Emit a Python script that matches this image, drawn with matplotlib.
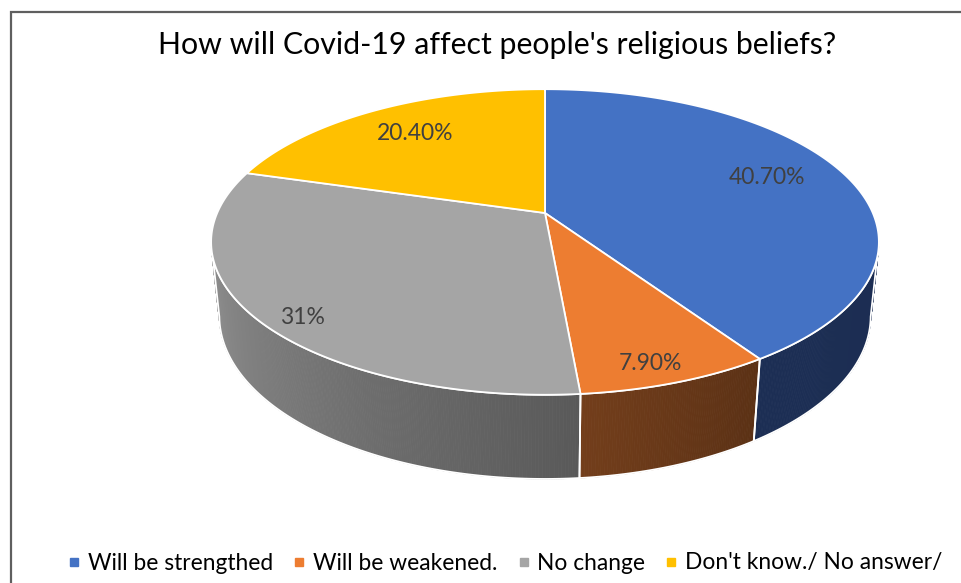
import numpy as np
import matplotlib
matplotlib.use("Agg")
import matplotlib.pyplot as plt
from matplotlib.patches import Polygon
from matplotlib.lines import Line2D
from matplotlib.colors import to_rgb

# ---- data ----
title = "How will Covid-19 affect people's religious beliefs?"
categories = ["Will be strengthed", "Will be weakened.", "No change", "Don't know./ No answer/"]
shares = [40.7, 7.9, 31.0, 20.4]
value_labels = ["40.70%", "7.90%", "31%", "20.40%"]

# ---- styling ----
top_colors = ["#4472C4", "#ED7D31", "#A5A5A5", "#FFC000"]
# side wall gradient (colour at slice start angle, colour at slice end angle)
wall_colors = [("#1b2b4f", "#1c2e54"),
               ("#5b3115", "#733e1b"),
               ("#595959", "#a2a2a2"),
               ("#8a6800", "#b08600")]
# label placement: radial fraction and angular nudge (degrees) from mid-angle
label_radius = [0.755, 0.896, 0.903, 0.749]
label_nudge = [-3.1, 1.8, -4.4, 0.6]
FONT = "Lato"
TEXT_COL = "#404040"

# ---- simple perspective camera for a tilted disc ----
CX, CY = 545.0, 213.0      # pixel position of the disc centre
SCALE = 1544.0
DIST = 4.71
ELEV = np.radians(26.7)
THICK = 0.255


def project(theta_deg, rho=1.0, z=0.0):
    t = np.radians(theta_deg)
    X = rho * np.sin(t)
    Y = rho * np.cos(t)
    d = DIST + Y * np.cos(ELEV) - z * np.sin(ELEV)
    yc = Y * np.sin(ELEV) + z * np.cos(ELEV)
    return CX + SCALE * X / d, CY - SCALE * yc / d


# visible range of the outer wall (silhouette angles)
sil = np.degrees(np.arccos(-np.cos(ELEV) / DIST))
vis_lo, vis_hi = sil, 360.0 - sil

fig = plt.figure(figsize=(9.62, 5.83), dpi=100)
ax = fig.add_axes([0, 0, 1, 1])
ax.set_xlim(0, 962)
ax.set_ylim(583, 0)
ax.axis("off")

# chart frame
ax.plot([11, 11, 980], [600, 12, 12], color="#5f5f5f", lw=1.6, solid_joinstyle="miter", zorder=1)

bounds = np.concatenate([[0], np.cumsum(shares)]) / np.sum(shares) * 360.0

# side walls
for i in range(len(shares)):
    a0, a1 = bounds[i], bounds[i + 1]
    lo, hi = max(a0, vis_lo), min(a1, vis_hi)
    if hi <= lo:
        continue
    c0, c1 = np.array(to_rgb(wall_colors[i][0])), np.array(to_rgb(wall_colors[i][1]))
    angs = np.linspace(lo, hi, max(int((hi - lo) * 3), 4))
    for j in range(len(angs) - 1):
        f = ((angs[j] + angs[j + 1]) / 2 - a0) / (a1 - a0)
        col = c0 + (c1 - c0) * f
        seg = np.array([angs[j], angs[j + 1]])
        tx, ty = project(seg)
        bx, by = project(seg[::-1], z=-THICK)
        poly = Polygon(np.column_stack([np.r_[tx, bx], np.r_[ty, by]]),
                       closed=True, facecolor=col, edgecolor=col, lw=0.6, zorder=2)
        ax.add_patch(poly)
    full = np.linspace(lo, hi, 200)
    tx, ty = project(full)
    bx, by = project(full[::-1], z=-THICK)
    ax.add_patch(Polygon(np.column_stack([np.r_[tx, bx], np.r_[ty, by]]),
                         closed=True, facecolor="none", edgecolor="white", lw=1.3, zorder=3))

# top faces
for i in range(len(shares)):
    a0, a1 = bounds[i], bounds[i + 1]
    arc = np.linspace(a0, a1, 300)
    x, y = project(arc)
    pts = np.column_stack([np.r_[CX, x], np.r_[CY, y]])
    ax.add_patch(Polygon(pts, closed=True, facecolor=top_colors[i],
                         edgecolor="white", lw=1.3, joinstyle="round", zorder=4))

# value labels
for i in range(len(shares)):
    mid = (bounds[i] + bounds[i + 1]) / 2 + label_nudge[i]
    lx, ly = project(mid, rho=label_radius[i])
    ax.text(lx, ly, value_labels[i], ha="center", va="center", fontsize=16.5,
            color=TEXT_COL, family=FONT, zorder=5)

ax.text(497, 45, title, ha="center", va="center", fontsize=21.8, color="black", family=FONT)

handles = [Line2D([], [], marker="s", ls="none", markersize=6, color=c) for c in top_colors]
ax.legend(handles, categories, loc="center", bbox_to_anchor=(505 / 962, 1 - 563 / 583),
          ncol=4, frameon=False, handlelength=0.6, handletextpad=0.3, columnspacing=0.85,
          prop={"family": FONT, "size": 16.4}, labelcolor="black")

fig.savefig("out.png", dpi=100)
